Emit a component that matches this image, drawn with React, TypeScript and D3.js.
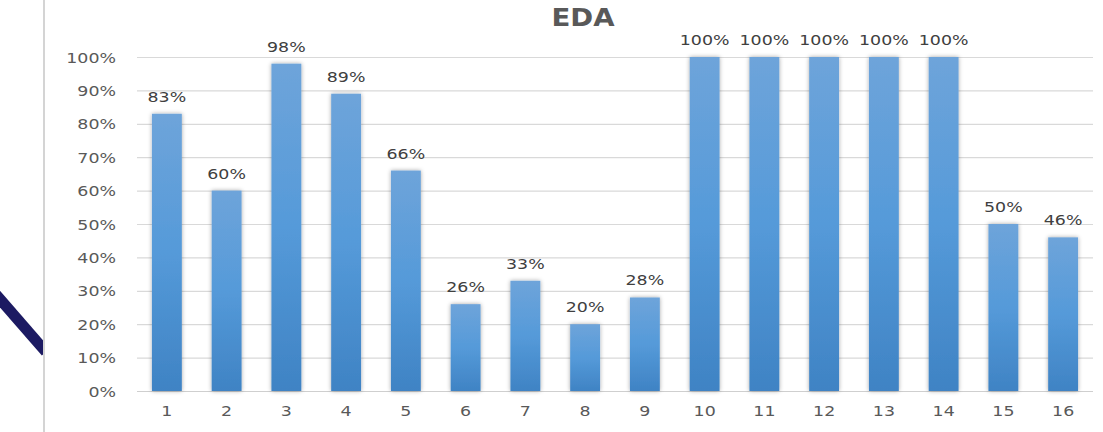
import React, { useEffect, useRef } from "react";
import * as d3 from "d3";

const categories = ["1", "2", "3", "4", "5", "6", "7", "8", "9", "10", "11", "12", "13", "14", "15", "16"];
const values = [83, 60, 98, 89, 66, 26, 33, 20, 28, 100, 100, 100, 100, 100, 50, 46];
const yTicks = [0, 10, 20, 30, 40, 50, 60, 70, 80, 90, 100];

const W = 1103;
const H = 432;

const App = () => {
  const ref = useRef<SVGSVGElement>(null);

  useEffect(() => {
    const svg = d3.select(ref.current);
    svg.selectAll("*").remove();

    const left = 137;
    const right = 1093;
    const top = 57;
    const bottom = 391;
    const font = "'DejaVu Sans', Verdana, sans-serif";
    const sx = 1.2; // text looks horizontally stretched

    const x = d3.scaleBand().domain(categories).range([left, right]).paddingInner(0.5).paddingOuter(0.25);
    const y = d3.scaleLinear().domain([0, 100]).range([bottom, top]);

    const defs = svg.append("defs");
    const grad = defs
      .append("linearGradient")
      .attr("id", "barGrad")
      .attr("x1", 0)
      .attr("y1", 0)
      .attr("x2", 0)
      .attr("y2", 1);
    grad.append("stop").attr("offset", "0%").attr("stop-color", "#6ea4da");
    grad.append("stop").attr("offset", "50%").attr("stop-color", "#559ad9");
    grad.append("stop").attr("offset", "100%").attr("stop-color", "#3f83c4");

    const shadow = defs
      .append("filter")
      .attr("id", "shadow")
      .attr("x", "-50%")
      .attr("y", "-10%")
      .attr("width", "200%")
      .attr("height", "120%");
    shadow
      .append("feDropShadow")
      .attr("dx", 0)
      .attr("dy", 0)
      .attr("stdDeviation", 2.2)
      .attr("flood-color", "#000")
      .attr("flood-opacity", 0.35);

    // page decoration on the left
    svg
      .append("path")
      .attr("d", "M -8,290 Q 18,320 46,352")
      .attr("fill", "none")
      .attr("stroke", "#1c1a62")
      .attr("stroke-width", 11);
    svg
      .append("line")
      .attr("x1", 44)
      .attr("x2", 44)
      .attr("y1", 0)
      .attr("y2", H)
      .attr("stroke", "#d4d4d4")
      .attr("stroke-width", 2);
    svg.append("rect").attr("x", 45).attr("y", 280).attr("width", 12).attr("height", 100).attr("fill", "white");

    // gridlines
    svg
      .append("g")
      .selectAll("line")
      .data(yTicks)
      .join("line")
      .attr("x1", left)
      .attr("x2", right)
      .attr("y1", (d) => y(d) + 0.5)
      .attr("y2", (d) => y(d) + 0.5)
      .attr("stroke", (d) => (d === 0 ? "#cfcfcf" : "#d9d9d9"))
      .attr("stroke-width", 1.2);

    // y tick labels
    svg
      .append("g")
      .selectAll("text")
      .data(yTicks)
      .join("text")
      .attr("transform", (d) => `translate(116,${y(d) + 5.5}) scale(${sx},1)`)
      .attr("text-anchor", "end")
      .attr("font-family", font)
      .attr("font-size", 14.5)
      .attr("fill", "#595959")
      .text((d) => `${d}%`);

    // bars
    svg
      .append("g")
      .selectAll("rect")
      .data(values)
      .join("rect")
      .attr("x", (d, i) => x(categories[i]) ?? 0)
      .attr("y", (d) => y(d))
      .attr("width", x.bandwidth())
      .attr("height", (d) => bottom - y(d))
      .attr("fill", "url(#barGrad)")
      .attr("filter", "url(#shadow)");

    // data labels
    svg
      .append("g")
      .selectAll("text")
      .data(values)
      .join("text")
      .attr("transform", (d, i) => `translate(${(x(categories[i]) ?? 0) + x.bandwidth() / 2},${y(d) - 12}) scale(${sx},1)`)
      .attr("text-anchor", "middle")
      .attr("font-family", font)
      .attr("font-size", 14.5)
      .attr("fill", "#404040")
      .text((d) => `${d}%`);

    // x tick labels
    svg
      .append("g")
      .selectAll("text")
      .data(categories)
      .join("text")
      .attr("transform", (d) => `translate(${(x(d) ?? 0) + x.bandwidth() / 2},${bottom + 25}) scale(${sx},1)`)
      .attr("text-anchor", "middle")
      .attr("font-family", font)
      .attr("font-size", 14.5)
      .attr("fill", "#595959")
      .text((d) => d);

    // title
    svg
      .append("text")
      .attr("transform", `translate(583,26) scale(1.15,1)`)
      .attr("text-anchor", "middle")
      .attr("font-family", font)
      .attr("font-weight", "bold")
      .attr("font-size", 24)
      .attr("fill", "#595959")
      .text("EDA");
  }, []);

  return (
    <svg
      ref={ref}
      width={W}
      height={H}
      style={{ position: "absolute", left: 0, top: 0, background: "white" }}
    ></svg>
  );
};

export default App;
